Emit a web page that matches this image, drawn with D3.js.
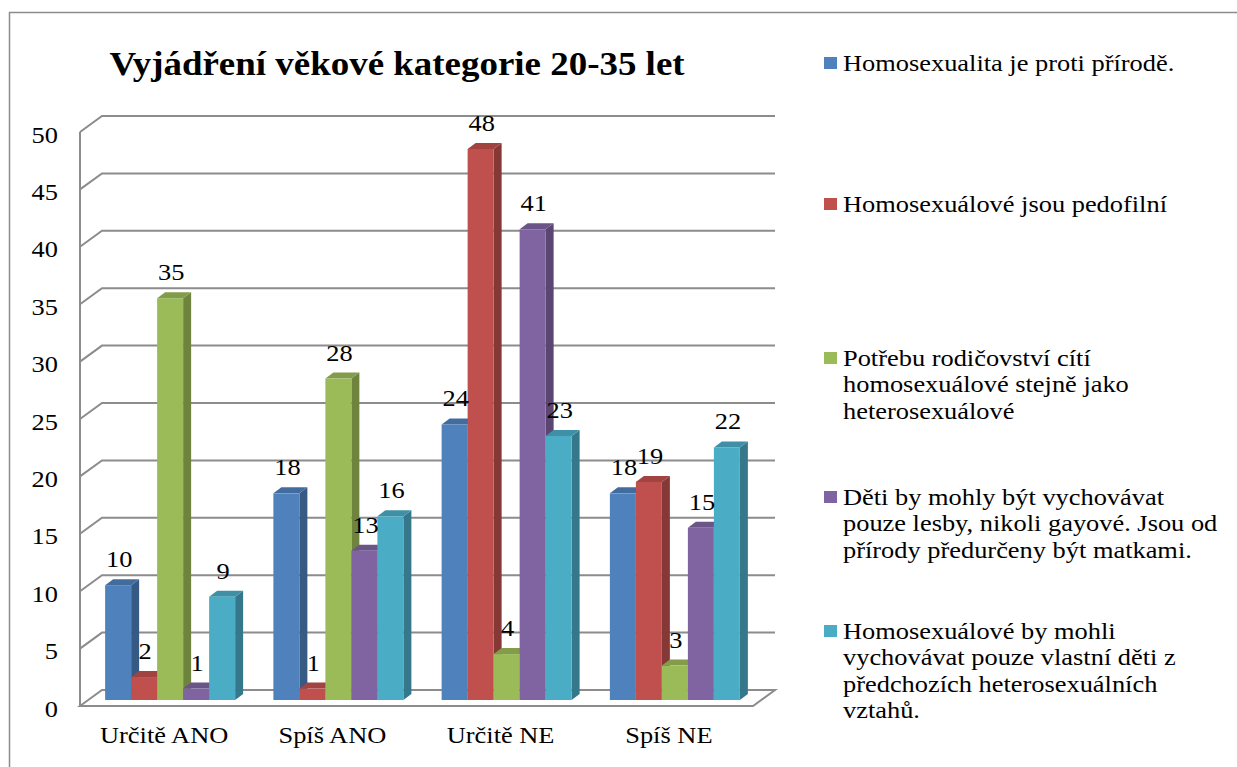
<!DOCTYPE html>
<html>
<head>
<meta charset="utf-8">
<script src="https://cdn.jsdelivr.net/npm/d3@7"></script>
<style>
  body { margin: 0; background: #fff; }
  svg { display: block; }
  text { font-family: "Liberation Serif", serif; fill: #000; }
</style>
</head>
<body>
<svg id="chart" width="1237" height="767"></svg>
<script>
// data
const categories = ['Určitě ANO', 'Spíš ANO', 'Určitě NE', 'Spíš NE'];
const seriesNames = [
  ['Homosexualita je proti přírodě.'],
  ['Homosexuálové jsou pedofilní'],
  ['Potřebu rodičovství cítí', 'homosexuálové stejně jako', 'heterosexuálové'],
  ['Děti by mohly být vychovávat', 'pouze lesby, nikoli gayové. Jsou od', 'přírody předurčeny být matkami.'],
  ['Homosexuálové by mohli', 'vychovávat pouze vlastní děti z', 'předchozích heterosexuálních', 'vztahů.']
];
const valuesProtiPrirode = [10, 18, 24, 18];
const valuesPedofilni = [2, 1, 48, 19];
const valuesRodicovstvi = [35, 28, 4, 3];
const valuesLesby = [1, 13, 41, 15];
const valuesVlastniDeti = [9, 16, 23, 22];
const seriesValues = [valuesProtiPrirode, valuesPedofilni, valuesRodicovstvi, valuesLesby, valuesVlastniDeti];
const yTicks = [0, 5, 10, 15, 20, 25, 30, 35, 40, 45, 50];
const title = 'Vyjádření věkové kategorie 20-35 let';

const colors = ['#4f81bd', '#c0504d', '#9bbb59', '#8064a2', '#4bacc6'];

// layout
const serif = '"Liberation Serif", serif';
const sx = 1.1;              // picture is a bit stretched sideways
const depth = {dx: 22, dy: -16};   // wall depth
const barDepth = {dx: 8, dy: -6};
const barW = 26;
const gridColor = '#8c8c8c';
const legendFirstY = [71, 212, 366, 505, 639];
const legendLine = 26.5;

const svg = d3.select('#chart');

// chart border
svg.append('rect')
  .attr('x', 9.5).attr('y', 12.5)
  .attr('width', 1400).attr('height', 900)
  .attr('fill', 'none').attr('stroke', gridColor).attr('stroke-width', 1.5);

// scales: front plane, back wall, bar plane (middle of depth)
const yFront = d3.scaleLinear().domain([0, 50]).range([706, 132]);
const yBack = d3.scaleLinear().domain([0, 50]).range([706 + depth.dy, 132 + depth.dy]);
const yBar = d3.scaleLinear().domain([0, 50]).range([700, 126]);
const xFront = d3.scaleBand().domain(categories).range([80, 753]);
const xBar = d3.scaleBand().domain(categories).range([86, 759]);
const xSeries = d3.scaleBand().domain(d3.range(seriesValues.length)).range([0, barW * seriesValues.length]);

const x0 = xFront.range()[0], x1 = xFront.range()[1];

// walls and gridlines
const walls = svg.append('g')
  .attr('fill', 'none').attr('stroke', gridColor).attr('stroke-width', 2);

walls.selectAll('path.grid')
  .data(yTicks.slice(1))
  .join('path')
  .attr('class', 'grid')
  .attr('d', v => `M${x0},${yFront(v)} L${x0 + depth.dx},${yBack(v)} L${x1 + depth.dx},${yBack(v)}`);

// floor
walls.append('path')
  .attr('d', `M${x0},${yFront(0)} L${x0 + depth.dx},${yBack(0)} L${x1 + depth.dx},${yBack(0)} L${x1},${yFront(0)} Z`);

// left wall front edge
walls.append('line')
  .attr('x1', x0).attr('x2', x0)
  .attr('y1', yFront(0)).attr('y2', yFront(50));

// y axis labels
const yAxis = svg.append('g')
  .attr('transform', `translate(58,0)`)
  .call(d3.axisLeft(yFront).tickValues(yTicks).tickSize(0).tickPadding(0));
yAxis.attr('font-family', serif);
yAxis.select('.domain').remove();
yAxis.selectAll('text')
  .attr('x', 0).attr('dy', null).attr('y', 10)
  .attr('transform', `scale(${sx},1)`)
  .style('font-size', '24px')
  .style('font-family', serif)
  .attr('fill', '#000');

// x axis labels
const xAxis = svg.append('g')
  .attr('transform', `translate(0,${743})`)
  .call(d3.axisBottom(xFront).tickSize(0).tickPadding(0));
xAxis.attr('font-family', serif);
xAxis.select('.domain').remove();
xAxis.selectAll('text')
  .attr('y', 0).attr('dy', null)
  .attr('transform', `scale(${sx},1)`)
  .style('font-size', '24px')
  .style('font-family', serif)
  .attr('fill', '#000');

// bars
const groupOffset = (xBar.bandwidth() - xSeries.range()[1]) / 2;
const bars = [];
categories.forEach((c, ci) => {
  seriesValues.forEach((vals, si) => {
    bars.push({cat: c, s: si, v: vals[ci], x: xBar(c) + groupOffset + xSeries(si)});
  });
});

const barG = svg.append('g').selectAll('g.bar')
  .data(bars)
  .join('g')
  .attr('class', 'bar');

barG.append('path')   // side
  .attr('fill', d => d3.color(colors[d.s]).darker(1.0))
  .attr('d', d => {
    const xr = d.x + barW, yt = yBar(d.v), yb = yBar(0);
    return `M${xr},${yt} L${xr + barDepth.dx},${yt + barDepth.dy} L${xr + barDepth.dx},${yb + barDepth.dy} L${xr},${yb} Z`;
  });

barG.append('path')   // top
  .attr('fill', d => d3.color(colors[d.s]).darker(0.5))
  .attr('d', d => {
    const yt = yBar(d.v);
    return `M${d.x},${yt} L${d.x + barDepth.dx},${yt + barDepth.dy} L${d.x + barW + barDepth.dx},${yt + barDepth.dy} L${d.x + barW},${yt} Z`;
  });

barG.append('rect')   // front
  .attr('fill', d => colors[d.s])
  .attr('x', d => d.x)
  .attr('y', d => yBar(d.v))
  .attr('width', barW)
  .attr('height', d => yBar(0) - yBar(d.v));

// value labels
svg.append('g').selectAll('text')
  .data(bars)
  .join('text')
  .attr('transform', d => `translate(${d.x + barW / 2 + 1},${yBar(d.v) - 18}) scale(${sx},1)`)
  .attr('text-anchor', 'middle')
  .style('font-family', serif)
  .style('font-size', '24px')
  .text(d => d.v);

// title
svg.append('text')
  .attr('transform', `translate(397,75) scale(1.12,1)`)
  .attr('text-anchor', 'middle')
  .style('font-family', serif)
  .style('font-size', '33px')
  .style('font-weight', 'bold')
  .text(title);

// legend
const legend = svg.append('g').selectAll('g')
  .data(seriesNames)
  .join('g')
  .attr('transform', (d, i) => `translate(824,${legendFirstY[i]})`);

legend.append('rect')
  .attr('x', 0).attr('y', -14)
  .attr('width', 13).attr('height', 12)
  .attr('fill', (d, i) => colors[i]);

legend.append('text')
  .attr('transform', `translate(19,0) scale(${sx},1)`)
  .style('font-family', serif)
  .style('font-size', '24px')
  .selectAll('tspan')
  .data(d => d)
  .join('tspan')
  .attr('x', 0)
  .attr('y', (d, i) => i * legendLine)
  .text(d => d);
</script>
</body>
</html>
